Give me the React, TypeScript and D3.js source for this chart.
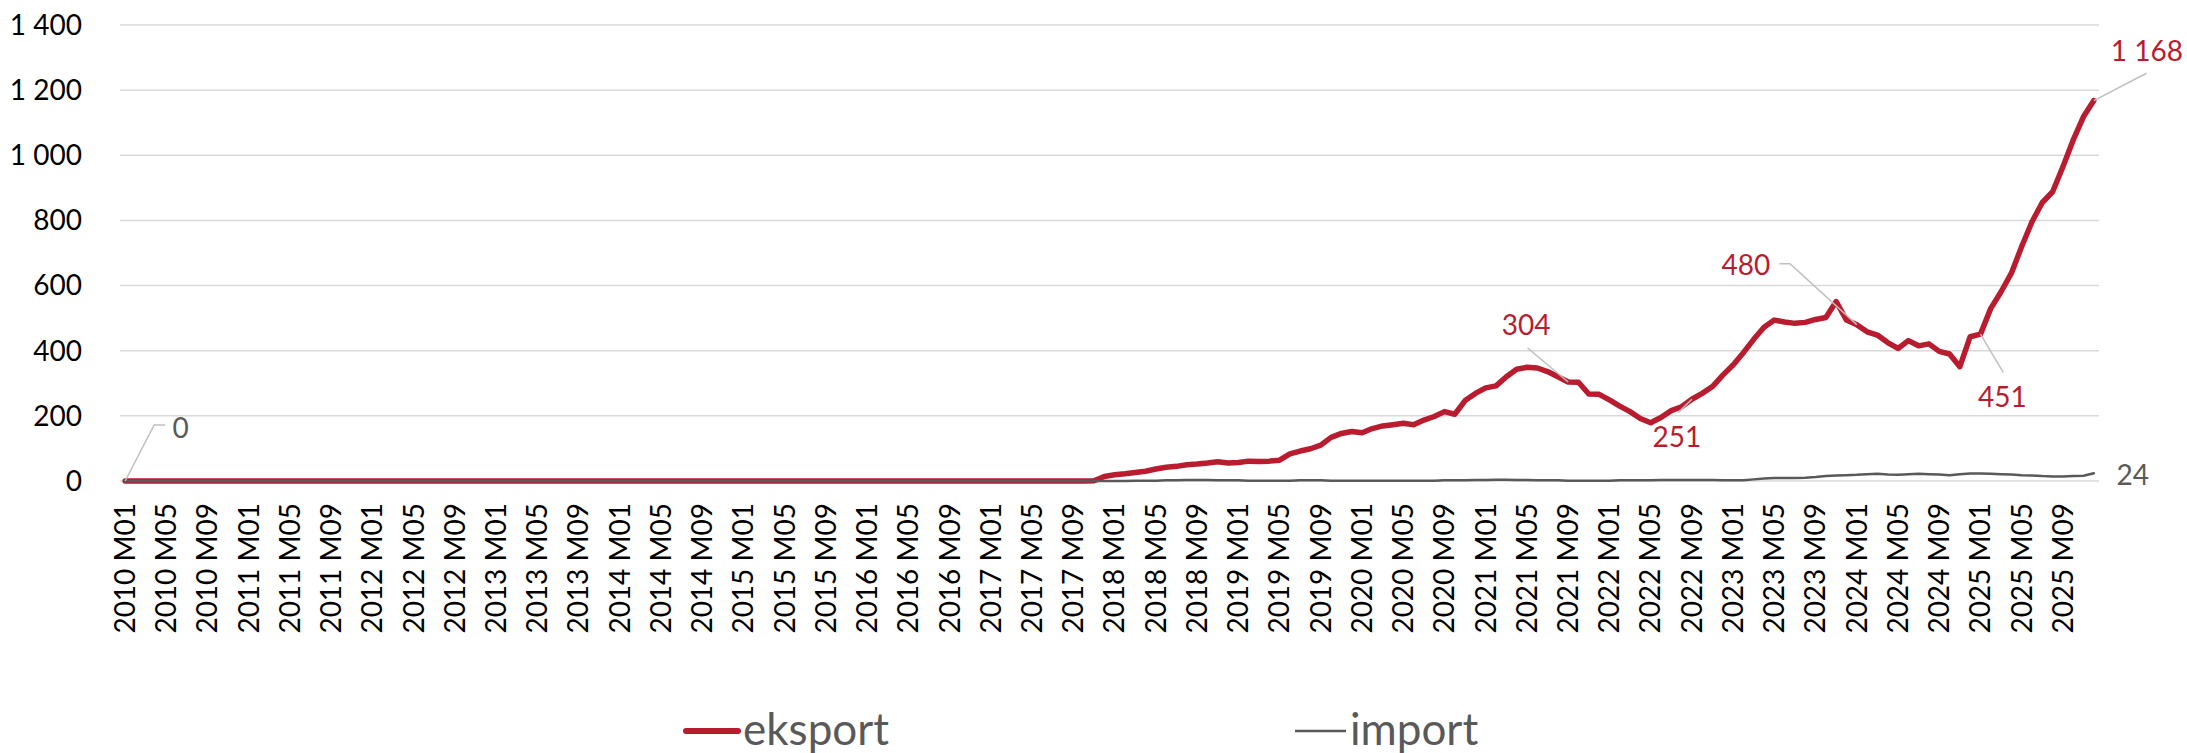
import React from "react";
import * as d3 from "d3";

// ---------- DATA ----------
const years = [2010, 2011, 2012, 2013, 2014, 2015, 2016, 2017, 2018, 2019, 2020, 2021, 2022, 2023, 2024, 2025];
const months = ["M01", "M02", "M03", "M04", "M05", "M06", "M07", "M08", "M09", "M10", "M11", "M12"];
const categories: string[] = years.flatMap((y) => months.map((m) => `${y} ${m}`));

// eksport, one row per year (M01..M12)
const eksport2010 = [0, 0, 0, 0, 0, 0, 0, 0, 0, 0, 0, 0];
const eksport2011 = [0, 0, 0, 0, 0, 0, 0, 0, 0, 0, 0, 0];
const eksport2012 = [0, 0, 0, 0, 0, 0, 0, 0, 0, 0, 0, 0];
const eksport2013 = [0, 0, 0, 0, 0, 0, 0, 0, 0, 0, 0, 0];
const eksport2014 = [0, 0, 0, 0, 0, 0, 0, 0, 0, 0, 0, 0];
const eksport2015 = [0, 0, 0, 0, 0, 0, 0, 0, 0, 0, 0, 0];
const eksport2016 = [0, 0, 0, 0, 0, 0, 0, 0, 0, 0, 0, 0];
const eksport2017 = [0, 0, 0, 0, 0, 0, 0, 0, 0, 0, 1, 14];
const eksport2018 = [19, 22, 26, 30, 37, 42, 45, 50, 52, 55, 59, 55];
const eksport2019 = [57, 61, 60, 61, 64, 83, 92, 99, 110, 134, 146, 152];
const eksport2020 = [148, 161, 169, 173, 177, 173, 187, 198, 213, 205, 247, 269];
const eksport2021 = [286, 292, 320, 343, 349, 347, 336, 320, 304, 303, 267, 266];
const eksport2022 = [249, 230, 213, 192, 179, 195, 216, 228, 251, 269, 290, 325];
const eksport2023 = [356, 394, 435, 472, 494, 488, 484, 487, 496, 502, 551, 494];
const eksport2024 = [480, 458, 448, 425, 407, 431, 415, 421, 398, 390, 351, 443];
const eksport2025 = [451, 530, 581, 638, 720, 796, 855, 888, 965, 1047, 1119, 1168];

// import, one row per year (M01..M12)
const import2010 = [0, 0, 0, 0, 0, 0, 0, 0, 0, 0, 0, 0];
const import2011 = [0, 0, 0, 0, 0, 0, 0, 0, 0, 0, 0, 0];
const import2012 = [0, 0, 0, 0, 0, 0, 0, 0, 0, 0, 0, 0];
const import2013 = [0, 0, 0, 0, 0, 0, 0, 0, 0, 0, 0, 0];
const import2014 = [0, 0, 0, 0, 0, 0, 0, 0, 0, 0, 0, 0];
const import2015 = [0, 0, 0, 0, 0, 0, 0, 0, 0, 0, 0, 0];
const import2016 = [0, 0, 0, 0, 0, 0, 0, 0, 0, 0, 0, 0];
const import2017 = [0, 0, 0, 0, 0, 0, 0, 0, 0, 0, 0, 0];
const import2018 = [0, 0, 1, 1, 1, 2, 2, 3, 3, 3, 2, 2];
const import2019 = [2, 1, 1, 1, 1, 1, 2, 2, 2, 1, 1, 1];
const import2020 = [1, 1, 1, 1, 1, 1, 1, 1, 2, 2, 2, 3];
const import2021 = [3, 4, 4, 3, 3, 2, 2, 2, 1, 1, 1, 1];
const import2022 = [1, 2, 2, 2, 2, 3, 3, 3, 3, 3, 3, 2];
const import2023 = [2, 2, 5, 8, 9, 9, 9, 10, 12, 15, 17, 18];
const import2024 = [19, 21, 22, 20, 19, 21, 22, 21, 20, 18, 21, 23];
const import2025 = [23, 22, 21, 20, 18, 17, 15, 14, 14, 15, 16, 24];

const eksport: number[] = [
  ...eksport2010, ...eksport2011, ...eksport2012, ...eksport2013, ...eksport2014, ...eksport2015,
  ...eksport2016, ...eksport2017, ...eksport2018, ...eksport2019, ...eksport2020, ...eksport2021,
  ...eksport2022, ...eksport2023, ...eksport2024, ...eksport2025,
];
const importSeries: number[] = [
  ...import2010, ...import2011, ...import2012, ...import2013, ...import2014, ...import2015,
  ...import2016, ...import2017, ...import2018, ...import2019, ...import2020, ...import2021,
  ...import2022, ...import2023, ...import2024, ...import2025,
];

const yTicks = [0, 200, 400, 600, 800, 1000, 1200, 1400];
const seriesNames = ["eksport", "import"];

// labelled points: series + category
const labelledPoints = [
  { series: "import", category: "2010 M01" },
  { series: "eksport", category: "2021 M09" },
  { series: "eksport", category: "2022 M09" },
  { series: "eksport", category: "2024 M01" },
  { series: "eksport", category: "2025 M01" },
  { series: "eksport", category: "2025 M12" },
  { series: "import", category: "2025 M12" },
];

// ---------- LAYOUT / STYLE ----------
const W = 2187;
const H = 753;
const plotLeft = 120;
const plotRight = 2099;
const plotTop = 25;
const plotBottom = 481;
const RED = "#B81C2E";
const GREY = "#595959";
const GRID = "#D9D9D9";
const LEADER = "#BFBFBF";
const FONT = "Lato, 'Open Sans', 'Liberation Sans', sans-serif";

// label placement (offsets from the point, px) – layout only
const labelLayout = [
  { dx: 55.5, dy: -53, leader: [[29, -56], [40, -56]] },
  { dx: -42, dy: -57, leader: [[-40.6, -34]] },
  { dx: -15, dy: 38, leader: [[-13.6, 13.4]] },
  { dx: -111, dy: -59, leader: [[-66.8, -61], [-77.5, -61]] },
  { dx: 22, dy: 63.5, leader: [[22.8, 38.3]] },
  { dx: 53, dy: -49, leader: [[52.6, -27.3]] },
  { dx: 39, dy: 2, leader: [] as number[][] },
];

const fmt = d3.formatLocale({ decimal: ",", thousands: " ", grouping: [3], currency: ["", ""] }).format(",d");

export default function App() {
  const x = d3.scalePoint<string>().domain(categories).range([plotLeft, plotRight]).padding(0.5);
  const y = d3.scaleLinear().domain([0, 1400]).range([plotBottom, plotTop]);

  const values: Record<string, number[]> = { eksport, import: importSeries };

  const line = d3
    .line<number>()
    .x((_, i) => x(categories[i]) as number)
    .y((d) => y(d));

  const xLabelCats = categories.filter((_, i) => i % 4 === 0);

  return (
    <svg
      width={W}
      height={H}
      style={{ position: "absolute", left: 0, top: 0, background: "#fff" }}
      fontFamily={FONT}
    >
      {/* gridlines */}
      {yTicks.map((t) => (
        <line key={"g" + t} x1={plotLeft} x2={plotRight} y1={y(t)} y2={y(t)} stroke={GRID} strokeWidth={1.5} />
      ))}
      {/* y labels */}
      {yTicks.map((t) => (
        <text key={"yl" + t} x={82} y={y(t)} dy="0.35em" textAnchor="end" fontSize={28} fill="#000">
          {fmt(t)}
        </text>
      ))}
      {/* x labels */}
      {xLabelCats.map((c) => (
        <text
          key={"xl" + c}
          transform={`translate(${x(c)},503) rotate(-90)`}
          textAnchor="end"
          dy="0.35em"
          fontSize={28}
          fill="#000"
        >
          {c}
        </text>
      ))}
      {/* series */}
      <path d={line(eksport) || ""} fill="none" stroke={RED} strokeWidth={5.5} strokeLinejoin="round" strokeLinecap="round" />
      <path d={line(importSeries) || ""} fill="none" stroke={GREY} strokeWidth={2.5} strokeLinejoin="round" strokeLinecap="round" />

      {/* data labels */}
      {labelledPoints.map((lp, k) => {
        const i = categories.indexOf(lp.category);
        const v = values[lp.series][i];
        const px = x(lp.category) as number;
        const py = y(v);
        const lay = labelLayout[k];
        const pts = [[px, py], ...lay.leader.map(([a, b]) => [px + a, py + b])];
        return (
          <g key={"dl" + k}>
            {pts.length > 1 && (
              <polyline points={pts.map((p) => p.join(",")).join(" ")} fill="none" stroke={LEADER} strokeWidth={1.5} />
            )}
            <text
              x={px + lay.dx}
              y={py + lay.dy}
              dy="0.35em"
              textAnchor="middle"
              fontSize={28}
              fill={lp.series === "eksport" ? RED : GREY}
            >
              {fmt(v)}
            </text>
          </g>
        );
      })}

      {/* legend */}
      <g>
        <line x1={686} x2={738} y1={731} y2={731} stroke={RED} strokeWidth={6} strokeLinecap="round" />
        <text x={743} y={745} fontSize={44} fill={GREY}>
          {seriesNames[0]}
        </text>
        <line x1={1295} x2={1346} y1={731} y2={731} stroke={GREY} strokeWidth={2.5} />
        <text x={1350} y={745} fontSize={44} fill={GREY}>
          {seriesNames[1]}
        </text>
      </g>
    </svg>
  );
}
